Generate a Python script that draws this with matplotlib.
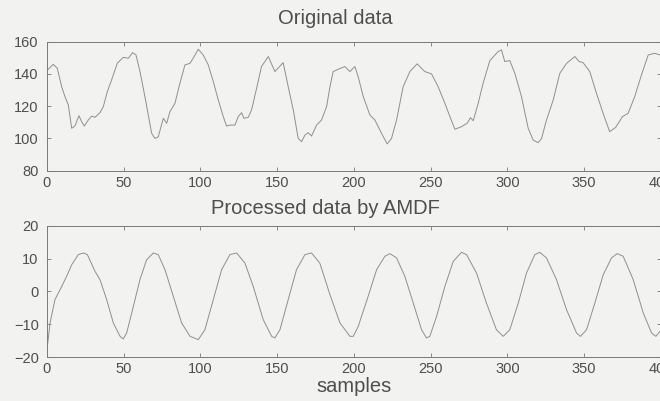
import numpy as np
import matplotlib
matplotlib.use("Agg")
import matplotlib.pyplot as plt

# Original data (sample index, value)
orig_x = [0.4, 4.1, 6.7, 9.6, 11.7, 13.9, 16.1, 18.2, 20.8, 22.6, 24.3, 26.9, 29.1, 31.3,
          34.5, 36.7, 39.3, 42.1, 45.8, 49.7, 53.0, 55.8, 58.0, 60.6, 63.8, 66.0, 68.2,
          70.4, 72.5, 75.8, 78.0, 80.1, 83.4, 86.6, 89.9, 93.2, 95.9, 98.6, 101.8, 105.1,
          108.4, 111.6, 114.9, 117.0, 119.2, 122.5, 124.6, 126.8, 128.3, 131.2, 133.3,
          136.6, 139.8, 144.2, 148.5, 153.9, 157.2, 160.5, 163.7, 165.9, 168.1, 170.2,
          172.4, 175.7, 178.9, 182.2, 184.4, 186.5, 189.8, 194.1, 197.4, 200.6, 202.8,
          206.1, 210.4, 213.7, 218.0, 221.7, 224.5, 227.8, 232.1, 236.5, 241.2, 246.2,
          250.6, 254.9, 259.3, 263.0, 265.8, 270.1, 273.8, 276.0, 277.8, 281.0, 284.2,
          288.6, 294.0, 296.2, 298.3, 301.6, 304.9, 309.2, 313.6, 316.8, 320.1, 322.3,
          325.5, 329.9, 334.2, 338.6, 344.0, 346.8, 349.4, 353.7, 358.1, 362.4, 366.7,
          370.6, 375.0, 378.7, 383.0, 387.4, 391.8, 396.1, 399.4]
orig_y = [142.5, 146.0, 143.5, 132.0, 126.0, 120.8, 106.3, 107.7, 114.1, 110.4, 107.7,
          111.4, 113.9, 113.1, 116.0, 119.7, 129.0, 136.3, 146.6, 150.3, 149.7, 153.2,
          151.8, 141.5, 126.0, 114.6, 103.2, 100.0, 101.0, 112.5, 109.4, 116.6, 121.8,
          134.2, 145.6, 146.6, 150.8, 155.3, 151.8, 145.6, 135.2, 123.9, 113.5, 107.7,
          108.3, 108.3, 113.5, 116.0, 112.5, 113.1, 117.7, 131.1, 144.6, 150.8, 141.5,
          147.0, 132.1, 117.7, 100.0, 98.0, 102.1, 103.6, 101.5, 108.3, 111.4, 119.7,
          132.1, 141.5, 142.9, 144.6, 141.5, 144.6, 138.3, 126.0, 114.6, 111.4, 103.2,
          96.6, 100.0, 111.4, 132.1, 141.5, 146.3, 141.5, 140.0, 132.1, 121.8, 112.5,
          105.7, 107.3, 109.4, 112.9, 111.0, 121.8, 134.2, 148.3, 153.9, 154.9, 147.7,
          148.3, 140.4, 126.0, 106.3, 99.0, 97.4, 100.0, 111.4, 123.9, 140.4, 146.6,
          150.8, 147.7, 147.0, 141.5, 128.0, 115.6, 104.2, 106.9, 113.5, 115.6, 125.9,
          139.4, 151.8, 152.8, 151.8]

# AMDF processed data
amdf_x = [0, 2, 5.2, 9.6, 12.8, 16.1, 20.4, 23.7, 26.3, 31.3, 34.5, 38.9, 43.2, 47.6,
          49.7, 51.9, 55.2, 60.6, 64.9, 69.3, 72.5, 76.9, 82.3, 87.7, 93.2, 98.6, 102.9,
          108.4, 113.8, 119.2, 123.6, 129.0, 134.4, 140.9, 146.4, 148.5, 151.8, 157.2,
          162.6, 168.1, 172.4, 177.8, 184.4, 190.9, 197.4, 199.6, 202.8, 209.3, 214.8,
          220.2, 223.5, 227.8, 233.2, 238.7, 244.1, 247.3, 249.5, 253.9, 259.3, 264.7,
          270.1, 273.4, 279.9, 286.4, 292.9, 297.3, 301.6, 307.1, 312.5, 317.9, 321.1,
          325.5, 332.0, 338.6, 345.1, 347.7, 351.6, 357.0, 362.5, 367.9, 371.6, 375.5,
          382.0, 388.6, 394.0, 396.8, 399.4]
amdf_y = [-17.8, -9.6, -2.5, 1.5, 4.6, 8.1, 11.2, 11.7, 11.2, 6.1, 3.6, -2.5, -9.6, -13.7,
          -14.5, -12.7, -6.6, 3.6, 9.6, 11.7, 11.2, 6.6, -1.5, -9.6, -13.7, -14.7, -11.7,
          -2.5, 6.6, 11.2, 11.7, 8.6, 1.5, -8.6, -13.7, -14.2, -11.7, -2.5, 6.6, 11.2,
          11.7, 8.6, -1.0, -9.6, -13.7, -13.7, -10.7, -1.5, 6.6, 10.7, 11.5, 10.2, 4.6,
          -3.6, -11.7, -14.2, -13.7, -7.6, 1.5, 9.1, 11.9, 11.2, 5.6, -3.6, -11.7, -13.7,
          -11.7, -3.6, 5.6, 11.2, 11.9, 10.2, 3.6, -5.6, -12.7, -13.7, -11.7, -3.6, 5.1,
          10.2, 11.5, 10.7, 3.6, -6.6, -12.7, -13.7, -12.2]

bg = '#f2f2f0'
line_c = '#8f8f8f'
text_c = '#4e4e4e'
edge_c = '#7a7a7a'

plt.rcParams['font.family'] = ['Liberation Sans', 'DejaVu Sans']

fig = plt.figure(figsize=(6.6, 4.01), dpi=100, facecolor=bg)
ax1 = fig.add_axes([0.0712, 0.5743, 0.93, 0.3217])
ax2 = fig.add_axes([0.0712, 0.1097, 0.93, 0.3274])

for ax in (ax1, ax2):
    ax.set_facecolor(bg)
    ax.set_xlim(0, 400)
    ax.set_xticks(np.arange(0, 401, 50))
    ax.tick_params(direction='in', top=True, right=True, length=3, width=0.6,
                   color=edge_c, labelcolor=text_c, labelsize=10.5)
    ax.tick_params(axis='x', pad=3.5)
    ax.tick_params(axis='y', pad=6)
    for s in ax.spines.values():
        s.set_color(edge_c)
        s.set_linewidth(0.7)

ax1.plot(orig_x, orig_y, color=line_c, lw=0.7)
ax1.set_ylim(80, 160)
ax1.set_yticks([80, 100, 120, 140, 160])
ax1.set_title('Original data', color=text_c, fontsize=14.5, pad=12.5, x=0.47)

ax2.plot(amdf_x, amdf_y, color=line_c, lw=0.7)
ax2.set_ylim(-20, 20)
ax2.set_yticks([-20, -10, 0, 10, 20])
ax2.set_title('Processed data by AMDF', color=text_c, fontsize=14.5, pad=8.5, x=0.453)
ax2.set_xlabel('samples', color=text_c, fontsize=14.5, labelpad=1)

fig.savefig('out.png', dpi=100, facecolor=bg)
